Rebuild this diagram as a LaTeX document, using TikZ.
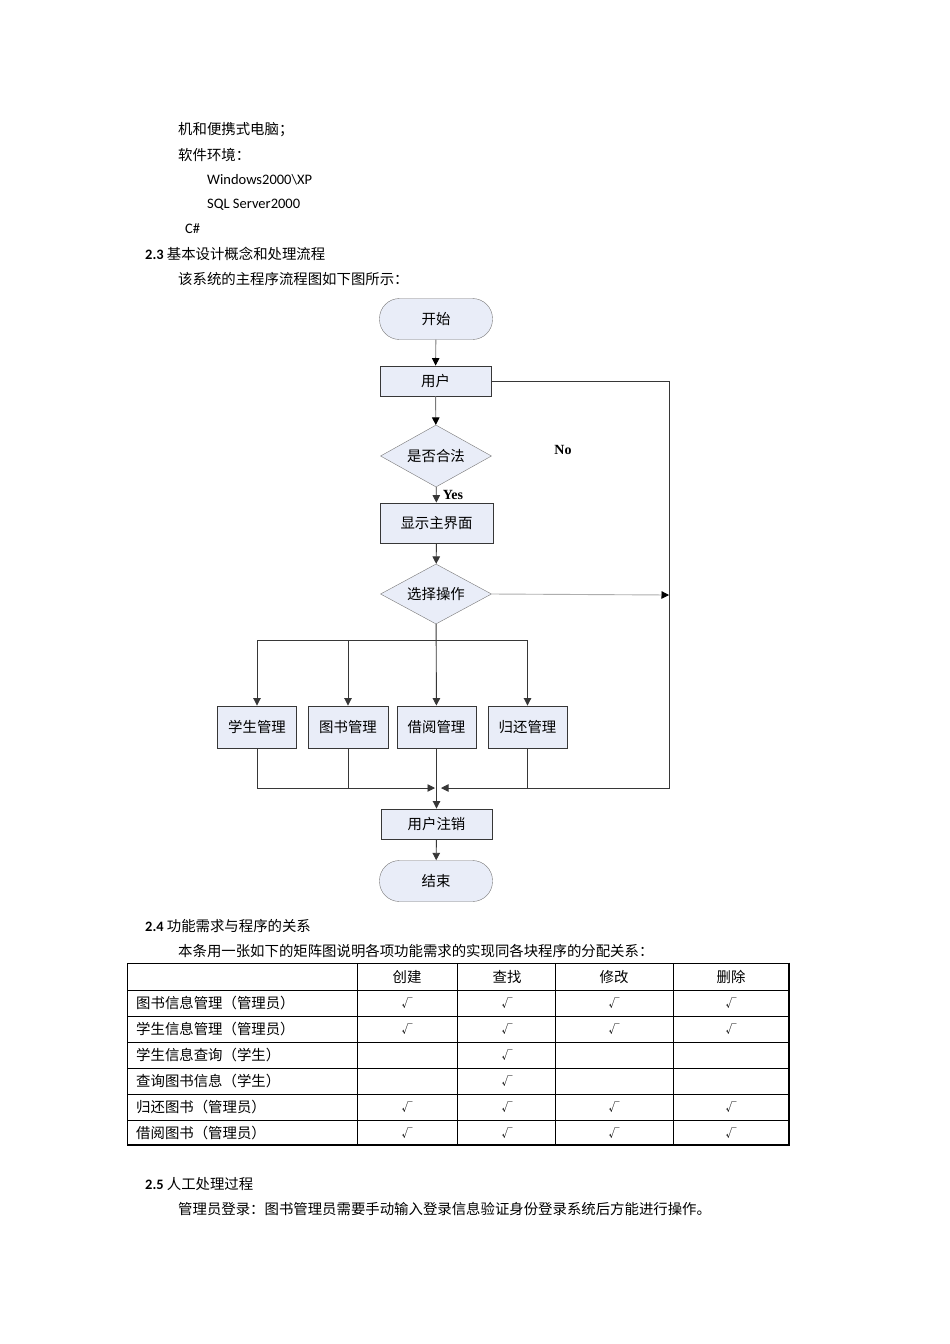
\documentclass[tikz,border=0pt]{standalone}
\usepackage{fontspec}
\setmainfont{Carlito}
\newfontfamily\cjk{Noto Sans CJK SC}
\newfontfamily\flowlbl{Liberation Serif}
\usetikzlibrary{shapes.geometric,arrows.meta}

\definecolor{boxfill}{RGB}{233,237,248}
\definecolor{boxline}{RGB}{55,55,55}
\definecolor{softline}{RGB}{120,120,120}

\newcommand{\bodyfont}{\fontsize{14.4pt}{17pt}\selectfont}

\begin{document}
\begin{tikzpicture}[x=1pt,y=-1pt,
    >={Triangle[length=7.5pt,width=7.5pt]},
    body/.style={anchor=west,inner sep=0pt,font=\bodyfont\cjk},
    term/.style={rectangle,rounded corners=20pt,draw=softline,fill=boxfill,
      minimum width=113pt,minimum height=41pt,font=\bodyfont\cjk},
    proc/.style={rectangle,draw=boxline,fill=boxfill,line width=0.9pt,
      minimum width=111pt,minimum height=30pt,font=\bodyfont\cjk},
    decision/.style={diamond,shape aspect=1.8,draw=softline,fill=boxfill,inner sep=0pt,
      minimum width=111pt,minimum height=62pt,font=\bodyfont\cjk},
    flow/.style={draw=boxline,line width=0.9pt},
    grid/.style={draw=black,line width=0.7pt},
    cell/.style={inner sep=0pt,font=\bodyfont\cjk},
    tick/.style={inner sep=0pt,font=\fontsize{11pt}{12pt}\selectfont\cjk}
    ]
    \useasboundingbox [fill=white] (0,0) rectangle (950,1344);

    % text above the chart
    \node (env1) at (178,130) [body] {机和便携式电脑；};
    \node (env2) at (178,155) [body] {软件环境：};
    \node (os) at (207,180) [body,font=\fontsize{14.5pt}{17pt}\selectfont] {Windows2000\textbackslash XP};
    \node (db) at (207,205) [body,font=\fontsize{14.5pt}{17pt}\selectfont] {SQL Server2000};
    \node (lang) at (185,229) [body,font=\fontsize{14.5pt}{17pt}\selectfont] {C\#};
    \node (sec23) at (145,254) [body] {{\rmfamily\bfseries 2.3} 基本设计概念和处理流程};
    \node (intro) at (178,279) [body] {该系统的主程序流程图如下图所示：};

    % flow chart
    \node (start) at (436,319) [term] {开始};
    \node (user) at (435.5,381) [proc] {用户};
    \node (legal) at (436,456) [decision] {是否合法};
    \node (mainui) at (436.5,523) [proc,minimum width=113pt,minimum height=40pt] {显示主界面};
    \node (choose) at (436,594) [decision,minimum height=60pt] {选择操作};
    \node (stu) at (257,727) [proc,minimum width=79pt,minimum height=42pt] {学生管理};
    \node (book) at (348,727) [proc,minimum width=80pt,minimum height=42pt] {图书管理};
    \node (borrow) at (436.5,727) [proc,minimum width=79pt,minimum height=42pt] {借阅管理};
    \node (ret) at (527.5,727) [proc,minimum width=79pt,minimum height=42pt] {归还管理};
    \node (logout) at (436.5,824) [proc] {用户注销};
    \node (end) at (436,881) [term] {结束};
    \node (no) at (563,450) [font=\fontsize{14pt}{16pt}\selectfont\flowlbl\bfseries] {No};
    \node (yes) at (453,495) [font=\fontsize{14pt}{16pt}\selectfont\flowlbl\bfseries] {Yes};

    \coordinate (rtop) at (669,381);
    \coordinate (rbot) at (669,788);
    \coordinate (rmid) at (669,595);
    \coordinate (split) at (436,640);
    \coordinate (mjw) at (435,788);
    \coordinate (mje) at (441,788);

    \draw [flow,draw=softline,-{Triangle[length=7.5pt,width=7.5pt,color=black]}] (start) -- (user);
    \draw [flow,draw=softline,-{Triangle[length=7.5pt,width=7.5pt,color=black]}] (user) -- (legal);
    \draw [flow,->] (legal) -- (mainui);
    \draw [flow,->] (mainui) -- (choose);
    \draw [flow,draw=softline!60,-{Triangle[length=7.5pt,width=7.5pt,color=black]}] (choose.east) -- (rmid);
    \draw [flow,->] (user.east) -- (rtop) -- (rbot) -- (mje);
    \draw [flow,->] (choose) -- (borrow);
    \draw [flow,->] (split) -| (stu);
    \draw [flow,->] (split) -| (book);
    \draw [flow,->] (split) -| (ret);
    \draw [flow,->] (stu) |- (mjw);
    \draw [flow] (book.south) -- (book.south |- mjw);
    \draw [flow] (ret.south) -- (ret.south |- mje);
    \draw [flow,->] (borrow) -- (logout);
    \draw [flow,->] (logout) -- (end);

    % matrix table
    \node (sec24) at (145,926) [body] {{\rmfamily\bfseries 2.4} 功能需求与程序的关系};
    \node (intro24) at (178,951) [body] {本条用一张如下的矩阵图说明各项功能需求的实现同各块程序的分配关系：};

    \foreach \y in {963,990,1016,1042,1068,1094,1120}
      \draw [grid] (127,\y) -- (789,\y);
    \foreach \x in {127,357,457,555,673}
      \draw [grid] (\x,963) -- (\x,1145);
    \draw [grid,line width=1.6pt] (127,1145) -- (789.8,1145);
    \draw [grid,line width=1.6pt] (789,962.6) -- (789,1145);

    \foreach \head/\x [count=\j] in {创建/407,查找/507,修改/614,删除/731}
      \node (head\j) at (\x,977) [cell] {\head};
    \foreach \name [count=\i] in {图书信息管理（管理员）,学生信息管理（管理员）,
        学生信息查询（学生）,查询图书信息（学生）,归还图书（管理员）,借阅图书（管理员）}
      \node (row\i) at (136,977+26*\i) [cell,anchor=west] {\name};
    \foreach \i in {1,2,5,6}
      \foreach \x [count=\j] in {407,507,614,731}
        \node (ck\i\j) at (\x,977+26*\i) [tick] {√};
    \node (ck32) at (507,1055) [tick] {√};
    \node (ck42) at (507,1081) [tick] {√};

    % text below the table
    \node (sec25) at (145,1184) [body] {{\rmfamily\bfseries 2.5} 人工处理过程};
    \node (manual) at (178,1209) [body] {管理员登录：图书管理员需要手动输入登录信息验证身份登录系统后方能进行操作。};
\end{tikzpicture}
\end{document}
